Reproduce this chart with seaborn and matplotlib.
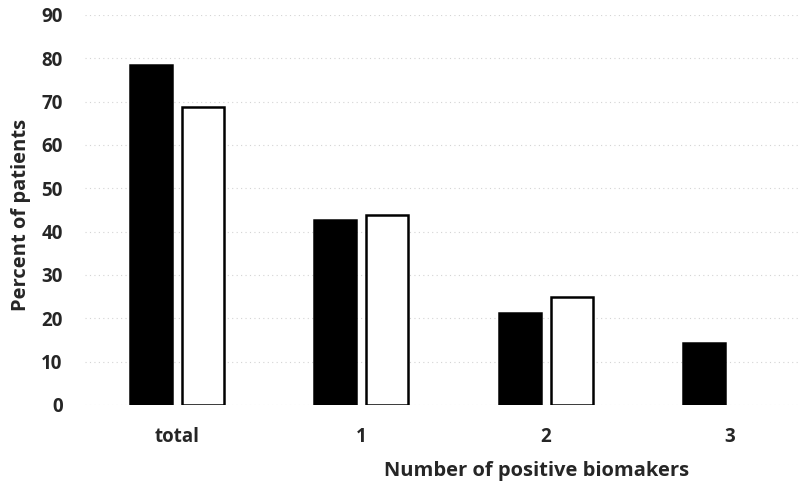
import pandas as pd
import seaborn as sns
import matplotlib.pyplot as plt
import matplotlib.ticker as ticker

categories = ["total", "1", "2", "3"]
group_a = [78.5, 42.7, 21.3, 14.2]
group_b = [68.8, 43.8, 25.0, None]
y_ticks = [0, 10, 20, 30, 40, 50, 60, 70, 80, 90]


def build_frame():
	rows = []
	for cat, a, b in zip(categories, group_a, group_b):
		rows.append({"category": cat, "group": "A", "value": a})
		if b is not None:
			rows.append({"category": cat, "group": "B", "value": b})
	return pd.DataFrame(rows)


def plot_biomarkers():

	sns.set_style("white")
	plt.rcParams["font.family"] = ["Open Sans", "DejaVu Sans"]
	plt.rcParams["font.weight"] = "bold"

	fig = plt.figure(figsize=(8, 4.86), dpi=100)
	ax = fig.add_axes([0.106, 0.1667, 0.894, 0.8025])

	df = build_frame()

	sns.barplot(data=df, x="category", y="value", hue="group",
		order=categories, hue_order=["A", "B"],
		palette={"A": "black", "B": "white"},
		width=0.564, gap=0.19, edgecolor="black", linewidth=1.8,
		legend=False, ax=ax, errorbar=None)

	ax.set_ylim(0, 90)
	ax.set_xlim(-0.5, 3.38)
	ax.yaxis.set_major_locator(ticker.FixedLocator(y_ticks))

	ax.grid(axis="y", color="#d4d4d4", linestyle=(0, (1, 3)), linewidth=0.8)
	ax.set_axisbelow(True)

	for side in ["top", "right", "left", "bottom"]:
		ax.spines[side].set_visible(False)

	ax.tick_params(axis="both", length=0, labelsize=13.5)
	ax.tick_params(axis="y", pad=16)
	ax.tick_params(axis="x", pad=16)
	for label in ax.get_xticklabels() + ax.get_yticklabels():
		label.set_fontweight("bold")

	ax.set_ylabel("Percent of patients", fontsize=14.5, fontweight="bold")
	ax.set_xlabel("Number of positive biomakers", fontsize=14.5, fontweight="bold")
	ax.yaxis.set_label_coords(-0.0755, 0.487)
	ax.xaxis.set_label_coords(0.631, -0.143)

	plt.savefig("out.png", dpi=100)


if __name__ == "__main__":
	plot_biomarkers()
